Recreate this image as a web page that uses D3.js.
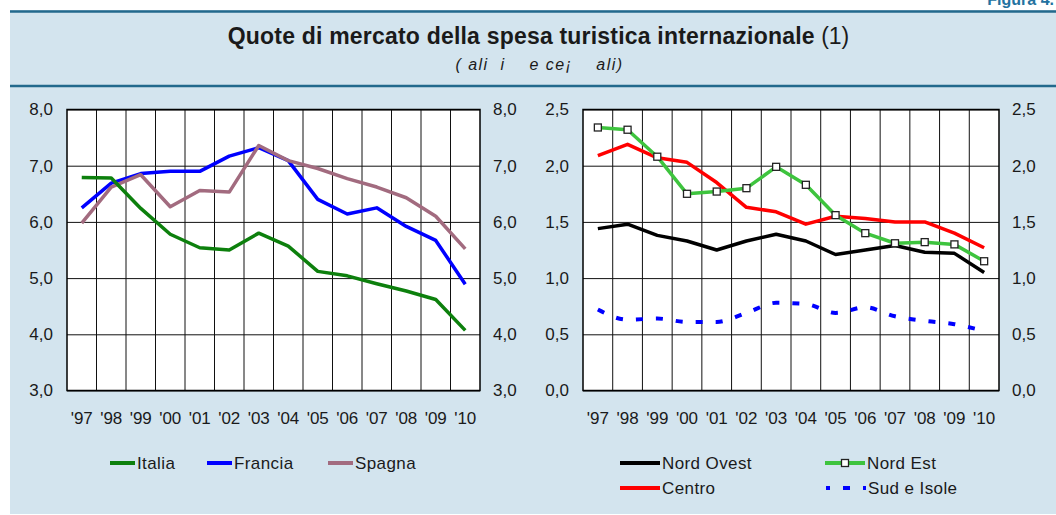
<!DOCTYPE html>
<html>
<head>
<meta charset="utf-8">
<script src="https://cdn.jsdelivr.net/npm/d3@7"></script>
<style>
  body { margin: 0; background: #fff; }
  svg text { font-family: "Liberation Sans", Arial, sans-serif; fill: #1a1a1a; }
</style>
</head>
<body>
<div id="chart"></div>
<script>
//Chart values
var years = ["'97","'98","'99","'00","'01","'02","'03","'04","'05","'06","'07","'08","'09","'10"]

var italia  = [6.79,6.78,6.24,5.78,5.54,5.50,5.80,5.57,5.12,5.04,4.90,4.77,4.62,4.07]
var francia = [6.25,6.69,6.86,6.90,6.90,7.17,7.32,7.09,6.40,6.14,6.25,5.92,5.67,4.89]
var spagna  = [5.98,6.62,6.84,6.27,6.56,6.53,7.36,7.09,6.95,6.77,6.62,6.43,6.10,5.52]

var nordOvest = [1.44,1.48,1.38,1.33,1.25,1.33,1.39,1.33,1.21,1.25,1.29,1.23,1.22,1.05]
var nordEst   = [2.34,2.32,2.08,1.75,1.77,1.80,1.99,1.83,1.56,1.40,1.31,1.32,1.30,1.15]
var centro    = [2.09,2.19,2.07,2.03,1.85,1.63,1.59,1.48,1.55,1.53,1.50,1.50,1.40,1.27]
var sudIsole  = [0.72,0.63,0.64,0.61,0.61,0.69,0.78,0.77,0.69,0.74,0.66,0.62,0.59,0.53]

var leftTicks  = [3,4,5,6,7,8]
var rightTicks = [0,0.5,1,1.5,2,2.5]

var title = "Quote di mercato della spesa turistica internazionale"
var titleNote = " (1)"
var subtitle = "( ali  i    e ce\u00a1    ali)"
var figura = "Figura 4."

//Sizes
var width = 1056
var height = 515
var panelColor = "#d3e4ee"
var ruleColor = "#22698c"

var svg = d3.select("#chart")
            .append("svg")
            .attr("width", width)
            .attr("height", height)

//Background panel and header rules
svg.append("rect")
   .attr("x", 10).attr("y", 10)
   .attr("width", width - 10).attr("height", height - 11)
   .attr("fill", panelColor)

svg.append("text")
   .text(figura)
   .attr("x", 1054).attr("y", 5)
   .attr("text-anchor", "end")
   .style("font-size", "16px")
   .style("font-weight", "bold")
   .style("fill", "#2372a0")

svg.append("line")
   .attr("x1", 10).attr("x2", width)
   .attr("y1", 11.5).attr("y2", 11.5)
   .attr("stroke", ruleColor).attr("stroke-width", 2.5)

svg.append("line")
   .attr("x1", 10).attr("x2", width)
   .attr("y1", 86).attr("y2", 86)
   .attr("stroke", ruleColor).attr("stroke-width", 2.5)

//Title
var t = svg.append("text")
           .attr("x", 538.5).attr("y", 43.5)
           .attr("text-anchor", "middle")
           .style("font-size", "23px")
t.append("tspan").text(title).style("font-weight", "bold").style("letter-spacing", "0.2px")
t.append("tspan").text(titleNote)

svg.append("text")
   .text(subtitle)
   .attr("x", 539.5).attr("y", 70)
   .attr("text-anchor", "middle")
   .style("font-size", "16px")
   .style("font-style", "italic")
   .style("letter-spacing", "1.5px")
   .style("white-space", "pre")

//Draws one plot with gridlines, both axes and the series
function drawPanel(x0, x1, y0, y1, domain, ticks, series) {
  var g = svg.append("g")

  var xScale = d3.scaleBand()
                 .domain(years)
                 .range([x0, x1])
                 .padding(0)

  var yScale = d3.scaleLinear()
                 .domain(domain)
                 .range([y1, y0])

  g.append("rect")
   .attr("x", x0).attr("y", y0)
   .attr("width", x1 - x0).attr("height", y1 - y0)
   .attr("fill", "#fff")

  //vertical grid at the band boundaries
  g.selectAll(".vgrid")
   .data(years.slice(1))
   .enter()
   .append("line")
   .attr("class", "vgrid")
   .attr("x1", function(d) { return xScale(d) })
   .attr("x2", function(d) { return xScale(d) })
   .attr("y1", y0).attr("y2", y1)
   .attr("stroke", "#111").attr("stroke-width", 1)

  //horizontal grid
  g.append("g")
   .attr("transform", "translate(" + x0 + ",0)")
   .call(d3.axisLeft(yScale).tickValues(ticks).tickSize(-(x1 - x0)).tickFormat(""))
   .call(function(a) { a.select(".domain").remove() })
   .selectAll("line").attr("stroke", "#111").attr("stroke-width", 1)

  var fmt = function(d) { return d.toFixed(1).replace(".", ",") }

  var left = g.append("g")
              .attr("transform", "translate(" + x0 + ",0)")
              .call(d3.axisLeft(yScale).tickValues(ticks).tickSize(0).tickPadding(14).tickFormat(fmt))
  var right = g.append("g")
               .attr("transform", "translate(" + x1 + ",0)")
               .call(d3.axisRight(yScale).tickValues(ticks).tickSize(0).tickPadding(13).tickFormat(fmt))
  var bottom = g.append("g")
                .attr("transform", "translate(0," + y1 + ")")
                .call(d3.axisBottom(xScale).tickSize(0).tickPadding(21))

  ;[left, right, bottom].forEach(function(a) {
    a.select(".domain").remove()
    a.selectAll("text")
     .attr("fill", "#1a1a1a")
     .style("font-size", "17px")
     .style("font-family", "'Liberation Sans', Arial, sans-serif")
  })

  g.append("rect")
   .attr("x", x0).attr("y", y0)
   .attr("width", x1 - x0).attr("height", y1 - y0)
   .attr("fill", "none")
   .attr("stroke", "#000").attr("stroke-width", 1.5)

  //series lines
  series.forEach(function(s) {
    var line = d3.line()
                 .x(function(d, i) { return xScale(years[i]) + xScale.bandwidth() / 2 })
                 .y(function(d) { return yScale(d) })
                 .curve(s.smooth ? d3.curveMonotoneX : d3.curveLinear)

    var p = g.append("path")
             .datum(s.values)
             .attr("d", line)
             .attr("fill", "none")
             .attr("stroke", s.color)
             .attr("stroke-width", s.width)
             .attr("stroke-linejoin", "round")
    if (s.dash) p.attr("stroke-dasharray", s.dash)

    if (s.marker) {
      g.selectAll(".mk" + s.name.replace(/ /g, ""))
       .data(s.values)
       .enter()
       .append("rect")
       .attr("x", function(d, i) { return xScale(years[i]) + xScale.bandwidth() / 2 - 3.5 })
       .attr("y", function(d) { return yScale(d) - 3.5 })
       .attr("width", 7).attr("height", 7)
       .attr("fill", "#fff")
       .attr("stroke", "#222").attr("stroke-width", 1.3)
    }
  })
}

var leftSeries = [
  {name: "Francia", values: francia, color: "#0000ff", width: 3.5},
  {name: "Spagna", values: spagna, color: "#a26b7f", width: 3.5},
  {name: "Italia", values: italia, color: "#0d800d", width: 3.5}
]

var rightSeries = [
  {name: "Sud e Isole", values: sudIsole, color: "#0000ff", width: 4, dash: "7,13", smooth: true},
  {name: "Nord Ovest", values: nordOvest, color: "#000000", width: 3.5},
  {name: "Centro", values: centro, color: "#ff0000", width: 3.5},
  {name: "Nord Est", values: nordEst, color: "#3ec43e", width: 3.5, marker: true}
]

drawPanel(67, 480, 109.5, 390.5, [3, 8], leftTicks, leftSeries)
drawPanel(583, 999, 109.5, 390.5, [0, 2.5], rightTicks, rightSeries)

//Legends
var legendItems = [
  {s: leftSeries[2], x: 110, len: 25, y: 463},
  {s: leftSeries[0], x: 207, len: 25, y: 463},
  {s: leftSeries[1], x: 328, len: 25, y: 463},
  {s: rightSeries[1], x: 620, len: 40, y: 463},
  {s: rightSeries[3], x: 825, len: 40, y: 463},
  {s: rightSeries[2], x: 620, len: 40, y: 488},
  {s: rightSeries[0], x: 826, len: 40, y: 488}
]

var legend = svg.append("g")
legendItems.forEach(function(item) {
  var l = legend.append("line")
                .attr("x1", item.x).attr("x2", item.x + item.len)
                .attr("y1", item.y).attr("y2", item.y)
                .attr("stroke", item.s.color)
                .attr("stroke-width", 4)
  if (item.s.dash) l.attr("stroke-dasharray", item.s.dash).attr("stroke-dashoffset", 3)
  if (item.s.marker) {
    legend.append("rect")
          .attr("x", item.x + item.len / 2 - 3.5).attr("y", item.y - 3.5)
          .attr("width", 7).attr("height", 7)
          .attr("fill", "#fff").attr("stroke", "#222").attr("stroke-width", 1.3)
  }
  legend.append("text")
        .text(item.s.name)
        .attr("x", item.x + item.len + 2)
        .attr("y", item.y + 6)
        .style("font-size", "17px")
        .style("letter-spacing", "0.4px")
})
</script>
</body>
</html>
